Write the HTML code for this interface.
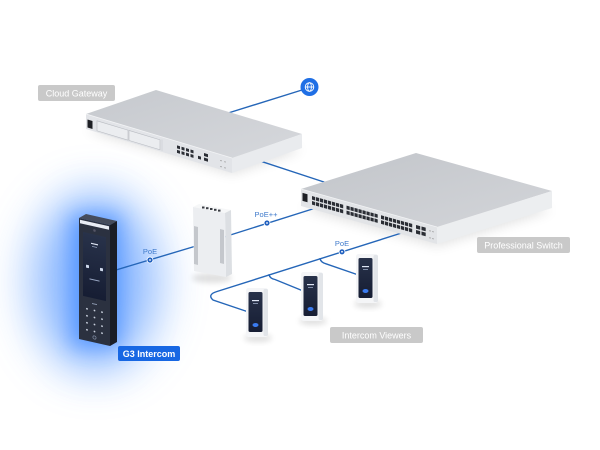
<!DOCTYPE html>
<html><head><meta charset="utf-8"><style>
html,body{margin:0;padding:0;background:#fff;}
svg{display:block;}
text{font-family:"Liberation Sans",sans-serif;}
</style></head><body>
<svg width="600" height="450" viewBox="0 0 600 450" xmlns="http://www.w3.org/2000/svg">
<defs>
<filter id="blur24" x="-100%" y="-100%" width="300%" height="300%"><feGaussianBlur stdDeviation="22"/></filter>
<filter id="blur10" x="-100%" y="-100%" width="300%" height="300%"><feGaussianBlur stdDeviation="10"/></filter>
<filter id="blur6" x="-50%" y="-50%" width="200%" height="200%"><feGaussianBlur stdDeviation="6"/></filter>
<filter id="blur3" x="-50%" y="-50%" width="200%" height="200%"><feGaussianBlur stdDeviation="3"/></filter>
<linearGradient id="swTop" x1="0" y1="0" x2="1" y2="1"><stop offset="0" stop-color="#c2c5ca"/><stop offset="1" stop-color="#d3d5d9"/></linearGradient>
<linearGradient id="gwTop" x1="0" y1="0" x2="1" y2="1"><stop offset="0" stop-color="#c6c9ce"/><stop offset="1" stop-color="#d6d8dc"/></linearGradient>
<linearGradient id="scr" x1="0" y1="0" x2="0" y2="1"><stop offset="0" stop-color="#28324a"/><stop offset="1" stop-color="#161d33"/></linearGradient>
</defs>

<!-- intercom glow -->
<ellipse cx="95" cy="282" rx="68" ry="92" fill="#8ab8ff" filter="url(#blur24)" opacity="0.7"/>
<ellipse cx="95" cy="282" rx="40" ry="76" fill="#5a98ff" filter="url(#blur24)" opacity="0.5"/>
<rect x="72" y="215" width="48" height="132" fill="#3a86ff" filter="url(#blur10)" opacity="0.65"/>

<!-- shadows -->
<polygon points="86,130 232,174 302,150 170,112" fill="#000" opacity="0.12" filter="url(#blur6)"/>
<polygon points="301,208 437,246 552,210 420,175" fill="#000" opacity="0.12" filter="url(#blur6)"/>
<ellipse cx="212" cy="278" rx="20" ry="5" fill="#000" opacity="0.12" filter="url(#blur3)"/>
<ellipse cx="258" cy="338" rx="14" ry="4" fill="#000" opacity="0.12" filter="url(#blur3)"/>
<ellipse cx="313" cy="321" rx="14" ry="4" fill="#000" opacity="0.12" filter="url(#blur3)"/>
<ellipse cx="368" cy="304" rx="14" ry="4" fill="#000" opacity="0.12" filter="url(#blur3)"/>

<!-- connectors -->
<g stroke="#2566b8" stroke-width="1.4" fill="none" stroke-linecap="round">
<line x1="225" y1="114" x2="302" y2="90"/>
<line x1="248" y1="157" x2="330" y2="184"/>
<line x1="224" y1="237" x2="322" y2="206"/>
<line x1="116" y1="270" x2="196" y2="246"/>
<path d="M400,233.5 L217,291.5 Q207,294.5 213,300 L247,311.5"/>
<path d="M269,274.8 Q270,278.5 275,279.5 L302,290.5"/>
<path d="M320,258.7 Q321,262.5 326,263.8 L357,274.5"/>
</g>

<!-- globe -->
<circle cx="309.5" cy="87" r="9" fill="#1f6fe5"/>
<g stroke="#fff" stroke-width="0.9" fill="none">
<circle cx="309.5" cy="87" r="4.3"/>
<ellipse cx="309.5" cy="87" rx="1.9" ry="4.3"/>
<line x1="305.2" y1="87" x2="313.8" y2="87"/>
</g>

<!-- Cloud Gateway -->
<polygon points="86,114 232,158 302,134 156,90" fill="url(#gwTop)"/>
<polygon points="232,158 302,134 302,148 232,173" fill="#e9ebee"/>
<polygon points="86,114 232,158 232,173 86,129" fill="#e2e4e8"/>
<line x1="86" y1="114" x2="232" y2="158" stroke="#f2f3f5" stroke-width="0.8"/>
<g transform="matrix(1,0.301,0,1,86,114)">
<rect x="1.5" y="5" width="5" height="8" fill="#1d1f24"/>
<rect x="11" y="3.5" width="31" height="10" fill="#ebedf0" stroke="#b9bcc2" stroke-width="0.6"/>
<rect x="43" y="3.5" width="31" height="10" fill="#ebedf0" stroke="#b9bcc2" stroke-width="0.6"/>
<line x1="76" y1="2.5" x2="76" y2="14" stroke="#c3c6cb" stroke-width="0.5"/>
<g fill="#2b2e35">
<rect x="91" y="4" width="3" height="3"/><rect x="95.5" y="4" width="3" height="3"/><rect x="100" y="4" width="3" height="3"/><rect x="104.5" y="4" width="3" height="3"/>
<rect x="91" y="8.5" width="3" height="3"/><rect x="95.5" y="8.5" width="3" height="3"/><rect x="100" y="8.5" width="3" height="3"/><rect x="104.5" y="8.5" width="3" height="3"/>
<rect x="112" y="8" width="3" height="3"/>
<rect x="118" y="3.5" width="4" height="3"/><rect x="118" y="8" width="4" height="3"/>
</g>
<circle cx="135" cy="6" r="0.6" fill="#888"/><circle cx="139" cy="6" r="0.6" fill="#888"/>
<circle cx="135" cy="12" r="0.6" fill="#888"/><circle cx="139" cy="12" r="0.6" fill="#888"/>
</g>

<!-- Professional Switch -->
<polygon points="301,189 437,227 552,191 416,153" fill="url(#swTop)"/>
<polygon points="437,227 552,191 552,208 437,244" fill="#eceef0"/>
<polygon points="301,189 437,227 437,244 301,206" fill="#e2e4e7"/>
<line x1="301" y1="189" x2="437" y2="227" stroke="#f2f3f5" stroke-width="0.8"/>
<g transform="matrix(1,0.278,0,1,301,189)">
<rect x="1.5" y="3.5" width="5" height="8" fill="#1d1f24"/>
<g fill="#2a2d34">
<rect x="11" y="4" width="3.2" height="3.6"/><rect x="15" y="4" width="3.2" height="3.6"/><rect x="19" y="4" width="3.2" height="3.6"/><rect x="23" y="4" width="3.2" height="3.6"/><rect x="27" y="4" width="3.2" height="3.6"/><rect x="31" y="4" width="3.2" height="3.6"/><rect x="35" y="4" width="3.2" height="3.6"/><rect x="39" y="4" width="3.2" height="3.6"/>
<rect x="45.5" y="4" width="3.2" height="3.6"/><rect x="49.5" y="4" width="3.2" height="3.6"/><rect x="53.5" y="4" width="3.2" height="3.6"/><rect x="57.5" y="4" width="3.2" height="3.6"/><rect x="61.5" y="4" width="3.2" height="3.6"/><rect x="65.5" y="4" width="3.2" height="3.6"/><rect x="69.5" y="4" width="3.2" height="3.6"/><rect x="73.5" y="4" width="3.2" height="3.6"/>
<rect x="80" y="4" width="3.2" height="3.6"/><rect x="84" y="4" width="3.2" height="3.6"/><rect x="88" y="4" width="3.2" height="3.6"/><rect x="92" y="4" width="3.2" height="3.6"/><rect x="96" y="4" width="3.2" height="3.6"/><rect x="100" y="4" width="3.2" height="3.6"/><rect x="104" y="4" width="3.2" height="3.6"/><rect x="108" y="4" width="3.2" height="3.6"/>
<rect x="11" y="9" width="3.2" height="3.6"/><rect x="15" y="9" width="3.2" height="3.6"/><rect x="19" y="9" width="3.2" height="3.6"/><rect x="23" y="9" width="3.2" height="3.6"/><rect x="27" y="9" width="3.2" height="3.6"/><rect x="31" y="9" width="3.2" height="3.6"/><rect x="35" y="9" width="3.2" height="3.6"/><rect x="39" y="9" width="3.2" height="3.6"/>
<rect x="45.5" y="9" width="3.2" height="3.6"/><rect x="49.5" y="9" width="3.2" height="3.6"/><rect x="53.5" y="9" width="3.2" height="3.6"/><rect x="57.5" y="9" width="3.2" height="3.6"/><rect x="61.5" y="9" width="3.2" height="3.6"/><rect x="65.5" y="9" width="3.2" height="3.6"/><rect x="69.5" y="9" width="3.2" height="3.6"/><rect x="73.5" y="9" width="3.2" height="3.6"/>
<rect x="80" y="9" width="3.2" height="3.6"/><rect x="84" y="9" width="3.2" height="3.6"/><rect x="88" y="9" width="3.2" height="3.6"/><rect x="92" y="9" width="3.2" height="3.6"/><rect x="96" y="9" width="3.2" height="3.6"/><rect x="100" y="9" width="3.2" height="3.6"/><rect x="104" y="9" width="3.2" height="3.6"/><rect x="108" y="9" width="3.2" height="3.6"/>
<rect x="115" y="4" width="4.2" height="3.6"/><rect x="120.5" y="4" width="4.2" height="3.6"/>
<rect x="115" y="9" width="4.2" height="3.6"/><rect x="120.5" y="9" width="4.2" height="3.6"/>
</g>
<circle cx="129" cy="6" r="0.6" fill="#888"/><circle cx="132" cy="6" r="0.6" fill="#888"/>
<circle cx="129" cy="13" r="0.6" fill="#888"/><circle cx="132" cy="13" r="0.6" fill="#888"/>
</g>

<!-- AP / PoE adapter -->
<polygon points="193,207 199,204 231,210 225,213" fill="#f6f7f8"/>
<polygon points="225,213 231,210 232,274 226,277" fill="#dcdfe3"/>
<polygon points="193,207 225,213 226,277 194,271" fill="#eceef1"/>
<g fill="#3a3d44"><rect x="202" y="206.5" width="2.5" height="2"/><rect x="206" y="207.2" width="2.5" height="2"/><rect x="210" y="208" width="2.5" height="2"/><rect x="214" y="208.8" width="2.5" height="2"/><rect x="218" y="209.6" width="2.5" height="2"/></g>
<polygon points="194,226 198,227 198,265 194,264" fill="#c4c7cc"/>
<polygon points="220,229 224,230 224,264 220,263" fill="#c4c7cc"/>

<!-- G3 Intercom device -->
<polygon points="79,218 86,214 117,221 110,225" fill="#454c5c"/>
<polygon points="110,225 117,221 117,342 110,346" fill="#1a1e27"/>
<polygon points="79,218 110,225 110,346 79,339" fill="#2b3140"/>
<g transform="matrix(1,0.226,0,1,79,218)">
<rect x="1" y="1.5" width="29" height="3.5" fill="#e8ecf4"/>
<circle cx="15.5" cy="9" r="1.3" fill="#556"/>
<rect x="4" y="13" width="23" height="64" fill="url(#scr)"/>
<rect x="12" y="22" width="7" height="1.2" fill="#dfe6f5"/>
<rect x="13" y="25" width="5" height="0.8" fill="#9aa8c4"/>
<rect x="7" y="45" width="3" height="3" rx="0.5" fill="#cdd7ea"/>
<rect x="21" y="45" width="3" height="3" rx="0.5" fill="#cdd7ea"/>
<rect x="10.5" y="58" width="10" height="1" fill="#9aa8c4"/>
<rect x="13" y="82" width="5" height="1" fill="#8a96ad"/>
<g fill="#c8cfdc">
<circle cx="8" cy="89" r="0.9"/><circle cx="15.5" cy="89" r="0.9"/><circle cx="23" cy="89" r="0.9"/>
<circle cx="8" cy="96" r="0.9"/><circle cx="15.5" cy="96" r="0.9"/><circle cx="23" cy="96" r="0.9"/>
<circle cx="8" cy="103" r="0.9"/><circle cx="15.5" cy="103" r="0.9"/><circle cx="23" cy="103" r="0.9"/>
<circle cx="8" cy="110" r="0.9"/><circle cx="15.5" cy="110" r="0.9"/><circle cx="23" cy="110" r="0.9"/>
</g>
<circle cx="15.5" cy="116" r="1.6" fill="none" stroke="#8a96ad" stroke-width="0.6"/>
</g>

<!-- Intercom Viewers -->
<g>
<rect x="246" y="288" width="22" height="49" rx="2.5" fill="#f4f5f7"/>
<rect x="263.5" y="289" width="4.5" height="47" rx="1.5" fill="#e2e5e9"/>
<rect x="248.5" y="292" width="14" height="40" rx="1.5" fill="url(#scr)"/>
<rect x="252" y="300" width="7" height="1.2" fill="#dfe6f5"/><rect x="253" y="303" width="5" height="0.8" fill="#9aa8c4"/>
<ellipse cx="255.5" cy="325" rx="3" ry="2" fill="#3a7bf0"/>
</g>
<g>
<rect x="301" y="272" width="22" height="49" rx="2.5" fill="#f4f5f7"/>
<rect x="318.5" y="273" width="4.5" height="47" rx="1.5" fill="#e2e5e9"/>
<rect x="303.5" y="276" width="14" height="40" rx="1.5" fill="url(#scr)"/>
<rect x="307" y="284" width="7" height="1.2" fill="#dfe6f5"/><rect x="308" y="287" width="5" height="0.8" fill="#9aa8c4"/>
<ellipse cx="310.5" cy="309" rx="3" ry="2" fill="#3a7bf0"/>
</g>
<g>
<rect x="356" y="254" width="22" height="49" rx="2.5" fill="#f4f5f7"/>
<rect x="373.5" y="255" width="4.5" height="47" rx="1.5" fill="#e2e5e9"/>
<rect x="358.5" y="258" width="14" height="40" rx="1.5" fill="url(#scr)"/>
<rect x="362" y="266" width="7" height="1.2" fill="#dfe6f5"/><rect x="363" y="269" width="5" height="0.8" fill="#9aa8c4"/>
<ellipse cx="365.5" cy="291" rx="3" ry="2" fill="#3a7bf0"/>
</g>

<!-- PoE dots & labels -->
<g fill="#1f5fbf" stroke="#fff" stroke-width="0.8">
<circle cx="150" cy="260" r="3"/>
<circle cx="267" cy="223" r="3"/>
<circle cx="342" cy="251.8" r="3"/>
</g>
<g fill="#fff"><circle cx="150" cy="260" r="0.9"/><circle cx="267" cy="223" r="0.9"/><circle cx="342" cy="251.8" r="0.9"/></g>
<g font-size="7.5" fill="#3f7acb" text-anchor="middle">
<text x="150" y="254">PoE</text>
<text x="266" y="217">PoE++</text>
<text x="342" y="246">PoE</text>
</g>

<!-- labels -->
<rect x="38" y="85" width="77" height="16" rx="2" fill="#c9c9c9"/>
<text x="76.5" y="96.3" font-size="9" fill="#fff" text-anchor="middle">Cloud Gateway</text>
<rect x="477" y="237" width="93" height="16" rx="2" fill="#c9c9c9"/>
<text x="523.5" y="248.3" font-size="9" fill="#fff" text-anchor="middle">Professional Switch</text>
<rect x="330" y="327" width="93" height="16" rx="2" fill="#c9c9c9"/>
<text x="376.5" y="338.3" font-size="9" fill="#fff" text-anchor="middle">Intercom Viewers</text>
<rect x="118" y="346" width="62" height="15" rx="2" fill="#1767e3"/>
<text x="149" y="356.8" font-size="9" font-weight="bold" fill="#fff" text-anchor="middle">G3 Intercom</text>
</svg>
</body></html>
